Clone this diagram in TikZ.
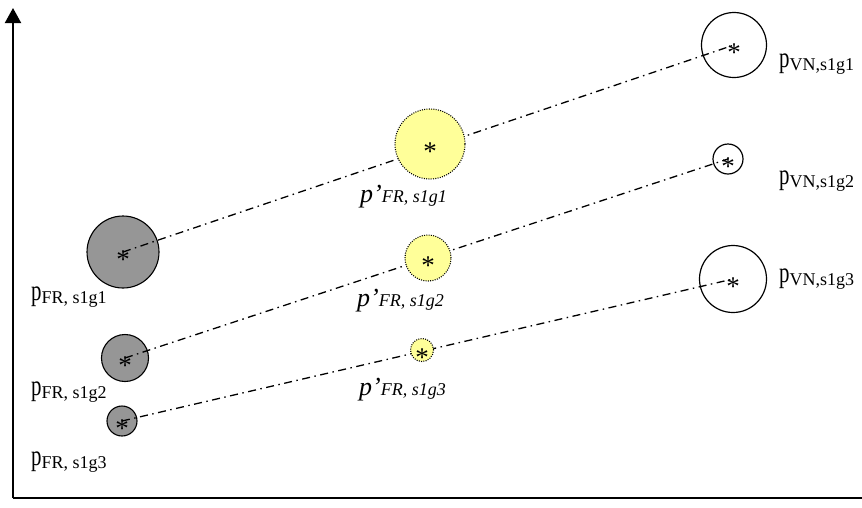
\documentclass[tikz,border=0pt]{standalone}
\usepackage{fontspec}
\setmainfont{Liberation Serif}
\usepackage{graphicx}
\usetikzlibrary{arrows.meta}

\definecolor{frgray}{RGB}{150,150,150}
\definecolor{fityellow}{RGB}{255,255,153}

\newcommand{\starmark}{\raisebox{-16pt}[0pt][0pt]{\fontsize{27}{27}\selectfont *}}
\newcommand{\bigp}{\raisebox{3pt}{\scalebox{0.72}[1]{\fontsize{29}{29}\selectfont p}}}
\newcommand{\itp}{{\fontsize{26}{26}\selectfont p’}}
\newcommand{\subtext}{\fontsize{18}{18}\selectfont}

\begin{document}
\begin{tikzpicture}[
    x=1pt, y=-1pt,
    axis/.style={line width=2pt},
    frdot/.style={circle, draw, line width=1.1pt, fill=frgray, inner sep=0pt},
    fitdot/.style={circle, draw, line width=1.1pt, dash pattern=on 1pt off 1.3pt, fill=fityellow, inner sep=0pt},
    vndot/.style={circle, draw, line width=1.2pt, inner sep=0pt},
    link/.style={line width=1.3pt, dash pattern=on 8pt off 4.5pt on 1.5pt off 4.5pt},
    lab/.style={inner sep=0pt, anchor=base west, font=\subtext}
]
    \useasboundingbox (0,0) rectangle (862,507);

    % Axes
    \coordinate (origin) at (13,498);
    \coordinate (ytop) at (13,8);
    \coordinate (xend) at (862,498);
    \draw [axis, -{Triangle[length=15pt, width=16pt]}] (origin) -- (ytop);
    \draw [axis] (origin) -- (xend);

    % FR points
    \node (g1) [frdot, minimum size=72pt] at (123,252) {\starmark};
    \node (g2) [frdot, minimum size=47pt] at (125,358) {\starmark};
    \node (g3) [frdot, minimum size=30pt] at (122,421) {\starmark};

    % VN points
    \node (v1) [vndot, minimum size=65pt] at (734,45) {\starmark};
    \node (v2) [vndot, minimum size=30pt] at (728,159) {\starmark};
    \node (v3) [vndot, minimum size=67pt] at (733,279) {\starmark};

    % Links
    \draw [link] (g1.center) -- (v1.center);
    \draw [link] (g2.center) -- (v2.center);
    \draw [link] (g3.center) -- (v3.center);

    % Fitted points
    \node (y1) [fitdot, minimum size=70pt] at (430,144) {\starmark};
    \node (y2) [fitdot, minimum size=46pt] at (428,258) {\starmark};
    \node (y3) [fitdot, minimum size=23pt] at (422,350) {\starmark};

    % Labels
    \node (lg1) [lab] at (31,303) {\bigp FR, s1g1};
    \node (lg2) [lab] at (31,398) {\bigp FR, s1g2};
    \node (lg3) [lab] at (31,468) {\bigp FR, s1g3};
    \node (lv1) [lab] at (779,70) {\bigp VN,s1g1};
    \node (lv2) [lab] at (779,187) {\bigp VN,s1g2};
    \node (lv3) [lab] at (779,285) {\bigp VN,s1g3};
    \node (ly1) [lab, font=\subtext\itshape] at (360,202) {\itp FR, s1g1};
    \node (ly2) [lab, font=\subtext\itshape] at (357,306) {\itp FR, s1g2};
    \node (ly3) [lab, font=\subtext\itshape] at (359,395) {\itp FR, s1g3};

\end{tikzpicture}
\end{document}
